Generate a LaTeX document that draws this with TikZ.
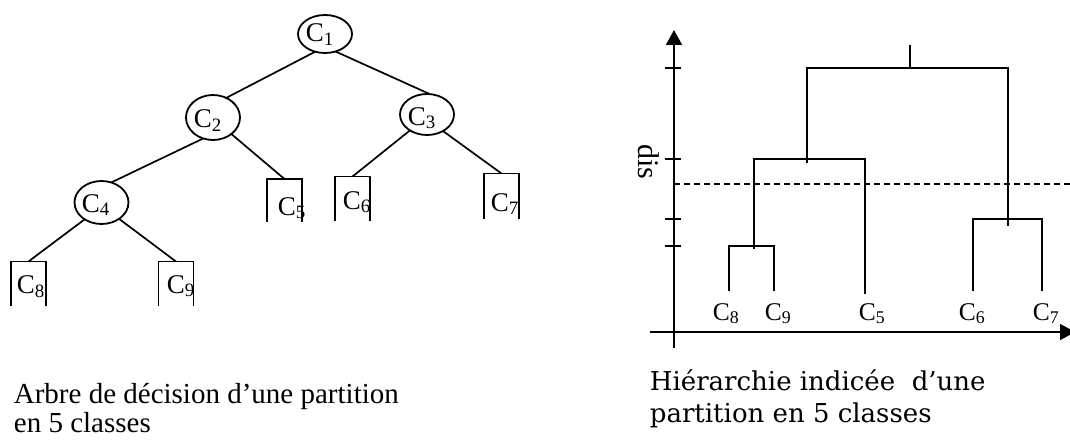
\documentclass[tikz,border=0pt]{standalone}
\usepackage{fontspec}
\setmainfont{Liberation Serif}
\newfontfamily\capfont{DejaVu Serif}
\usetikzlibrary{arrows.meta,shapes.geometric}
\begin{document}
\begin{tikzpicture}[x=1pt,y=-1pt,line width=1.8pt,
  cnode/.style={ellipse,draw,minimum width=54pt,inner sep=0pt,outer sep=0pt},
  leafbox/.style={rectangle,minimum width=35pt,inner sep=0pt,outer sep=0pt},
  clab/.style={font=\fontsize{27}{30}\selectfont,inner sep=0pt,anchor=base west},
  dlab/.style={font=\fontsize{25.5}{30}\selectfont,inner sep=0pt,anchor=base west},
  edge/.style={line width=1.7pt},
  dend/.style={line width=1.9pt},
  axisline/.style={line width=1.9pt,-{Triangle[length=15pt,width=16pt]}},
  tickmark/.style={line width=1.9pt},
  cut/.style={line width=1.9pt,dash pattern=on 6pt off 4pt},
  capl/.style={font=\fontsize{29}{29}\selectfont,inner sep=0pt,anchor=base west},
  capr/.style={font=\capfont\fontsize{26}{33}\selectfont,inner sep=0pt,anchor=base west},
]
\useasboundingbox (0,0) rectangle (1070,441);
% ---------------- decision tree ----------------
\node[cnode,minimum height=38pt] (c1) at (325,34) {};
\node[cnode,minimum height=45pt] (c2) at (213,117.5) {};
\node[cnode,minimum height=41pt] (c3) at (427,114.5) {};
\node[cnode,minimum height=43pt] (c4) at (101.5,202.5) {};
\node[leafbox,minimum height=43pt] (c5) at (284.5,200.5) {};
\node[leafbox,minimum height=44pt] (c6) at (352.5,198.5) {};
\node[leafbox,minimum height=45pt] (c7) at (501.5,196) {};
\node[leafbox,minimum height=44pt] (c8) at (28.5,283.5) {};
\node[leafbox,minimum height=44pt] (c9) at (176,283.5) {};
\foreach \n in {c5,c6,c7,c8,c9}
  \draw (\n.south west) -- (\n.north west) -- (\n.north east) -- (\n.south east);
\node[clab] (t1) at (305,42) {C\textsubscript{1}};
\node[clab] (t2) at (193,128) {C\textsubscript{2}};
\node[clab] (t3) at (407,125) {C\textsubscript{3}};
\node[clab] (t4) at (81,212) {C\textsubscript{4}};
\node[clab] (t5) at (277,215) {C\textsubscript{5}};
\node[clab] (t6) at (342,209) {C\textsubscript{6}};
\node[clab] (t7) at (490,211) {C\textsubscript{7}};
\node[clab] (t8) at (16,293) {C\textsubscript{8}};
\node[clab] (t9) at (166,293) {C\textsubscript{9}};
\draw[edge] (c1.241) -- (c2.56);
\draw[edge] (c1.301) -- (c3.82);
\draw[edge] (c2.245) -- (c4.64);
\draw[edge] (c2.318) -- (c5.north);
\draw[edge] (c3.223) -- (c6.north);
\draw[edge] (c3.314) -- (c7.north);
\draw[edge] (c4.225) -- (c8.north);
\draw[edge] (c4.317) -- (c9.north);
% ---------------- dendrogram ----------------
\coordinate (ybot) at (674,348);
\coordinate (ytop) at (674,30);
\coordinate (xleft) at (650,332);
\coordinate (xright) at (1075,332);
\draw[axisline] (ybot) -- (ytop);
\draw[axisline] (xleft) -- (xright);
\foreach \t in {68,159,219,246}
  \draw[tickmark] (665,\t) -- (681,\t);
\draw[cut] (674,184) -- (1070,184);
\node[font=\fontsize{30}{30}\selectfont,rotate=-90,inner sep=0pt] (dis) at (649,162) {dis};
\node[dlab] (d8) at (712,320) {C\textsubscript{8}};
\node[dlab] (d9) at (764,320) {C\textsubscript{9}};
\node[dlab] (d5) at (858,320) {C\textsubscript{5}};
\node[dlab] (d6) at (958,320) {C\textsubscript{6}};
\node[dlab] (d7) at (1032,320) {C\textsubscript{7}};
\coordinate (l8) at (729,291);
\coordinate (l9) at (774,291);
\coordinate (l5) at (865,294);
\coordinate (l6) at (973,291);
\coordinate (l7) at (1042,291);
\coordinate (j89) at (754,246);
\coordinate (j895) at (807,159);
\coordinate (j67) at (1008,219);
\coordinate (jroot) at (910,68);
\coordinate (jtop) at (910,45);
\draw[dend] (l8) |- (j89) -| (l9);
\draw[dend] ([yshift=-3pt]j89) |- (j895) -| (l5);
\draw[dend] (l6) |- (j67) -| (l7);
\draw[dend] ([yshift=-4pt]j895) |- (jroot) -| ([yshift=-7pt]j67);
\draw[dend] (jroot) -- (jtop);
% ---------------- captions ----------------
\node[capl] (a1) at (13,403) {Arbre de décision d’une partition};
\node[capl] (a2) at (13,432) {en 5 classes};
\node[capr] (b1) at (649,390) {Hiérarchie indicée~ d’une};
\node[capr] (b2) at (649,422) {partition en 5 classes};
\end{tikzpicture}
\end{document}
